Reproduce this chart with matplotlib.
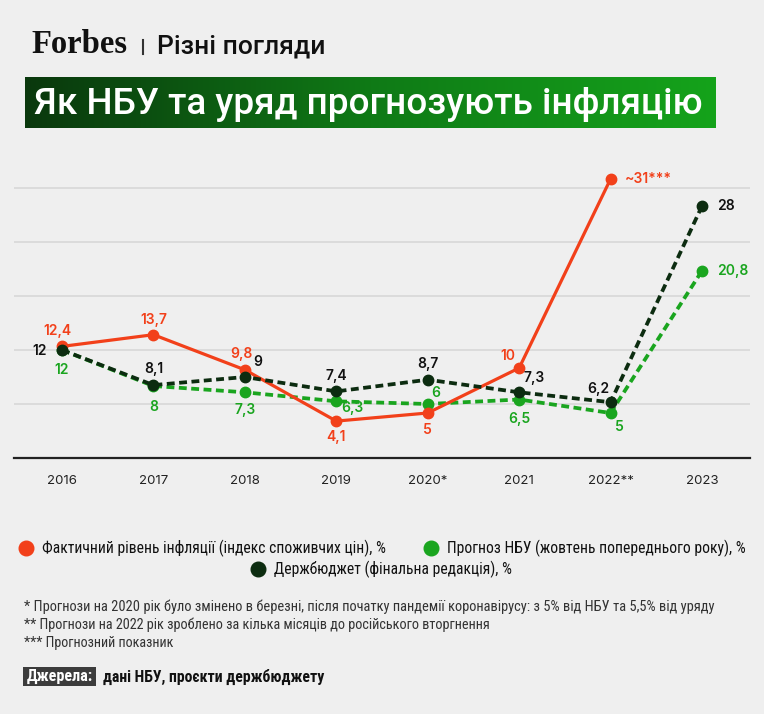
import matplotlib
matplotlib.use("Agg")
import matplotlib.pyplot as plt
import numpy as np
from matplotlib import font_manager as fm
from matplotlib.patches import Rectangle
from matplotlib.colors import LinearSegmentedColormap

# ---------------- data ----------------
years = ["2016", "2017", "2018", "2019", "2020*", "2021", "2022**", "2023"]
actual = [12.4, 13.7, 9.8, 4.1, 5.0, 10.0, 31.0, None]
actual_labels = ["12,4", "13,7", "9,8", "4,1", "5", "10", "~31***", None]
nbu = [12, 8, 7.3, 6.3, 6, 6.5, 5, 20.8]
nbu_labels = ["12", "8", "7,3", "6,3", "6", "6,5", "5", "20,8"]
budget = [12, 8.1, 9, 7.4, 8.7, 7.3, 6.2, 28]
budget_labels = ["12", "8,1", "9", "7,4", "8,7", "7,3", "6,2", "28"]
grid_values = [6, 12, 18, 24, 30]

title = "Як НБУ та уряд прогнозують інфляцію"
subtitle = "Різні погляди"
legend_labels = ["Фактичний рівень інфляції (індекс споживчих цін), %",
                 "Прогноз НБУ (жовтень попереднього року), %",
                 "Держбюджет (фінальна редакція), %"]
footnotes = ["* Прогнози на 2020 рік було змінено в березні, після початку пандемії коронавірусу: з 5% від НБУ та 5,5% від уряду",
             "** Прогнози на 2022 рік зроблено за кілька місяців до російського вторгнення",
             "*** Прогнозний показник"]
source_head = "Джерела:"
source_text = "дані НБУ, проєкти держбюджету"

RED = "#f2401a"
GREEN = "#1aa51f"
DARK = "#0c2c10"
BG = "#efefef"

names = {f.name for f in fm.fontManager.ttflist}
COND = "Roboto"
for cand in ["Roboto Condensed", "Liberation Sans Narrow", "Roboto"]:
    if cand in names:
        COND = cand
        break
WIDE = "Roboto"
NUM = "Inter" if "Inter" in names else "Roboto"
SERIF = "Liberation Serif" if "Liberation Serif" in names else "DejaVu Serif"
plt.rcParams['font.family'] = [WIDE, 'DejaVu Sans']

W, H = 764, 714
fig = plt.figure(figsize=(W / 100, H / 100), dpi=100, facecolor=BG)
renderer = fig.canvas.get_renderer()


def fx(px):
    return px / W


def fy(py):
    return 1 - py / H


def fit(t, target_w):
    bb = t.get_window_extent(renderer=renderer)
    t.set_fontsize(t.get_fontsize() * target_w / bb.width)


# ---------------- header ----------------
t = fig.text(fx(31), fy(53), "Forbes", family=SERIF, weight="bold", fontsize=20,
             color="#111111", va="baseline", ha="left")
fit(t, 96)
fig.add_artist(plt.Line2D([fx(142.5), fx(142.5)], [fy(40), fy(54)], color="#333333", lw=1.5))
t = fig.text(fx(157), fy(53), subtitle, fontsize=16, weight="medium", color="#111111",
             va="baseline", ha="left", family=[WIDE, "DejaVu Sans"])
fit(t, 169)

bax = fig.add_axes([fx(25), fy(128), fx(716) - fx(25), fy(77) - fy(128)])
grad = np.linspace(0, 1, 256).reshape(1, -1)
cmap = LinearSegmentedColormap.from_list("g", ["#0a380d", "#0f7a16", "#15a31b"])
bax.imshow(grad, aspect="auto", cmap=cmap, extent=[0, 1, 0, 1])
bax.set_axis_off()
t = fig.text(fx(34), fy(114), title, fontsize=28, weight="medium", color="white",
             va="baseline", ha="left", family=[WIDE, "DejaVu Sans"])
fit(t, 669)

# ---------------- chart ----------------
x = np.arange(len(years))
ax = fig.add_axes([fx(14), fy(458), fx(750) - fx(14), fy(161) - fy(458)])
ax.set_facecolor(BG)
ax.set_xlim(-0.525, 7.525)
ax.set_ylim(0, 33)
for g in grid_values:
    ax.axhline(g, color="#d9d9d9", lw=1.3, zorder=0)
ax.axhline(0, color="#222222", lw=1.6, zorder=1, clip_on=False)
for s in ax.spines.values():
    s.set_visible(False)
ax.set_yticks([])
ax.set_xticks(x)
ax.set_xticklabels(years, fontsize=9.5, color="#222222", family=[NUM, "DejaVu Sans"])
ax.tick_params(axis="x", length=0, pad=12)

MS = 7.5
ax.plot(x, nbu, color=GREEN, lw=2.7, ls=(0, (2.1, 1.2)), marker="o", ms=MS,
        mec=GREEN, mfc=GREEN, zorder=3)
ax_x = [xi for xi, v in zip(x, actual) if v is not None]
ax_v = [v for v in actual if v is not None]
ax.plot(ax_x, ax_v, color=RED, lw=2.3, marker="o", ms=MS, zorder=4)
ax.plot(x, budget, color=DARK, lw=2.7, ls=(0, (2.1, 1.2)), marker="o", ms=MS, zorder=5)

# label offsets in pixels (dx, dy) relative to the point
red_off = [(-5, 15), (0, 15), (-3, 16), (0, -16), (0, -17), (-11, 12), (14, 0)]
red_ha = ["center"] * 6 + ["left"]
nbu_off = [(0, -20), (0, -21), (0, -18), (16, -7), (8, 11), (0, -19), (9, -14), (15, 0)]
nbu_ha = ["center"] * 7 + ["left"]
bud_off = [(-22, -1), (0, 16), (13, 15), (0, 15), (0, 16), (15, 14), (-12, 13), (15, 0)]
bud_ha = ["center"] * 7 + ["left"]


def label(xi, v, txt, off, ha, color):
    ax.annotate(txt, (xi, v), xytext=off, textcoords="offset pixels", ha=ha,
                va="center", fontsize=10, weight="semibold", color=color, zorder=6,
                family=[NUM, "DejaVu Sans"])


for xi, v, tx, o, h in zip(ax_x, ax_v, actual_labels, red_off, red_ha):
    label(xi, v, tx, o, h, RED)
for xi, v, tx, o, h in zip(x, nbu, nbu_labels, nbu_off, nbu_ha):
    label(xi, v, tx, o, h, GREEN)
for xi, v, tx, o, h in zip(x, budget, budget_labels, bud_off, bud_ha):
    label(xi, v, tx, o, h, "#111111")

# ---------------- legend ----------------
leg_items = [(26, 548, RED, 342), (431, 548, GREEN, 298), (258, 569, DARK, 237)]
for (cx, cy, col, wtxt), lab in zip(leg_items, legend_labels):
    fig.add_artist(plt.Line2D([fx(cx)], [fy(cy)], marker="o", ms=10.5, color=col, ls="none"))
    t = fig.text(fx(cx + 16), fy(cy), lab, fontsize=11, color="#111111", va="center",
                 ha="left", family=[COND, "DejaVu Sans"])
    fit(t, wtxt)

# ---------------- footnotes ----------------
foot_y = [607, 625, 643]
foot_w = [698, 472, 151]
for yy, txt, wt in zip(foot_y, footnotes, foot_w):
    t = fig.text(fx(24), fy(yy), txt, fontsize=9.5, color="#333333", va="center", ha="left",
                 family=[COND, "DejaVu Sans"])
    fit(t, wt)

fig.add_artist(Rectangle((fx(23), fy(686)), fx(96) - fx(23), fy(667) - fy(686),
                         transform=fig.transFigure, color="#3c3c3c", lw=0))
t = fig.text(fx(59.5), fy(676.5), source_head, fontsize=10, color="white", weight="bold",
             va="center", ha="center", family=[COND, "DejaVu Sans"])
fit(t, 66)
t = fig.text(fx(103), fy(676.5), source_text, fontsize=10, color="#111111", weight="bold",
             va="center", ha="left", family=[COND, "DejaVu Sans"])
fit(t, 221)

fig.savefig("out.png", dpi=100, facecolor=BG)
